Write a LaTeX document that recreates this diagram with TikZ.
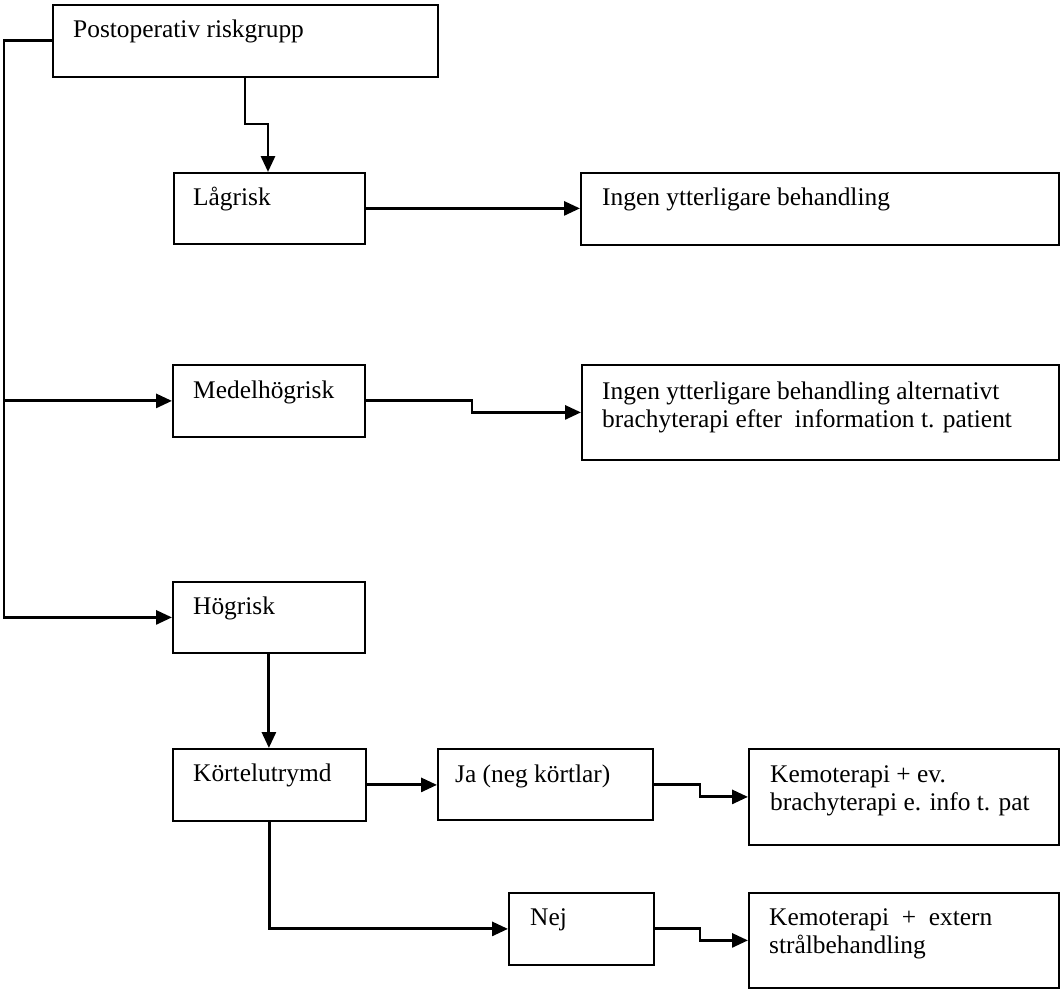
\documentclass[tikz,border=0pt]{standalone}
\usepackage{fontspec}
\setmainfont{Liberation Serif}
\usetikzlibrary{arrows.meta}
\begin{document}
\begin{tikzpicture}[x=1pt,y=-1pt,
  box/.style={draw=black, line width=1.8pt, rectangle, inner sep=0pt, anchor=north west},
  txt/.style={anchor=base west, inner sep=0pt, font=\fontsize{25.4pt}{28pt}\selectfont},
  conn/.style={line width=2.9pt, line join=miter},
  arr/.style={conn, -{Triangle[length=16pt,width=14pt]}}]
\useasboundingbox (0,0) rectangle (1060,988);
% boxes
\node[box, minimum width=385pt, minimum height=72pt] (post) at (52,4) {};
\node[box, minimum width=191pt, minimum height=71pt] (lag) at (173,172) {};
\node[box, minimum width=478pt, minimum height=72pt] (ingen1) at (580,172) {};
\node[box, minimum width=192pt, minimum height=72pt] (medel) at (172,364) {};
\node[box, minimum width=477pt, minimum height=95pt] (ingen2) at (581,364) {};
\node[box, minimum width=192pt, minimum height=71pt] (hog) at (172,581) {};
\node[box, minimum width=193pt, minimum height=72pt] (kort) at (172,748) {};
\node[box, minimum width=215pt, minimum height=71pt] (ja) at (437,748) {};
\node[box, minimum width=310pt, minimum height=96pt] (kemo1) at (748,748) {};
\node[box, minimum width=145pt, minimum height=72pt] (nej) at (508,892) {};
\node[box, minimum width=310pt, minimum height=95pt] (kemo2) at (748,892) {};
% texts
\node[txt] (postT) at ([shift={(21pt,-33.5pt)}]post.north west) {Postoperativ riskgrupp};
\node[txt] (lagT) at ([shift={(20pt,-33.5pt)}]lag.north west) {Lågrisk};
\node[txt] (ingen1T) at ([shift={(22pt,-33.5pt)}]ingen1.north west) {Ingen ytterligare behandling};
\node[txt] (medelT) at ([shift={(21pt,-34pt)}]medel.north west) {Medelhögrisk};
\node[txt] (ingen2T) at ([shift={(21pt,-35pt)}]ingen2.north west) {\begin{tabular}[t]{@{}l@{}}Ingen ytterligare behandling alternativt\\brachyterapi efter\ \ information t. patient\end{tabular}};
\node[txt] (hogT) at ([shift={(21pt,-33.5pt)}]hog.north west) {Högrisk};
\node[txt] (kortT) at ([shift={(21pt,-33.5pt)}]kort.north west) {Körtelutrymd};
\node[txt] (jaT) at ([shift={(18pt,-34pt)}]ja.north west) {Ja (neg körtlar)};
\node[txt] (kemo1T) at ([shift={(22pt,-34pt)}]kemo1.north west) {\begin{tabular}[t]{@{}l@{}}Kemoterapi + ev.\\brachyterapi e. info t. pat\end{tabular}};
\node[txt] (nejT) at ([shift={(22pt,-33.5pt)}]nej.north west) {Nej};
\node[txt] (kemo2T) at ([shift={(21pt,-33.5pt)}]kemo2.north west) {\begin{tabular}[t]{@{}l@{}}Kemoterapi\ \ +\ \ extern\\strålbehandling\end{tabular}};
% connectors
\coordinate (c1) at (268,124);
\draw[arr] ([xshift=193pt]post.south west) |- (c1) -- (c1 |- lag.north);
\coordinate (trunk) at (4,0);
\draw[conn] (post.west) -| ([yshift=-1.45pt]trunk |- hog.west);
\draw[arr] (trunk |- hog.west) -- (hog.west);
\draw[arr] (trunk |- medel.west) -- (medel.west);
\draw[arr] (lag.east) -- (lag.east -| ingen1.west);
\coordinate (m1) at (472,0);
\draw[arr] (medel.east) -- (m1 |- medel.east) -- (m1 |- ingen2.west) -- (ingen2.west);
\draw[arr] (hog.south) -- (hog.south |- kort.north);
\draw[arr] (kort.east) -- (kort.east -| ja.west);
\draw[arr] (kort.south) |- (nej.west);
\coordinate (m2) at (700,0);
\draw[arr] (ja.east) -- (m2 |- ja.east) -- (m2 |- kemo1.west) -- (kemo1.west);
\draw[arr] (nej.east) -- (m2 |- nej.east) -- (m2 |- kemo2.west) -- (kemo2.west);
\end{tikzpicture}
\end{document}
